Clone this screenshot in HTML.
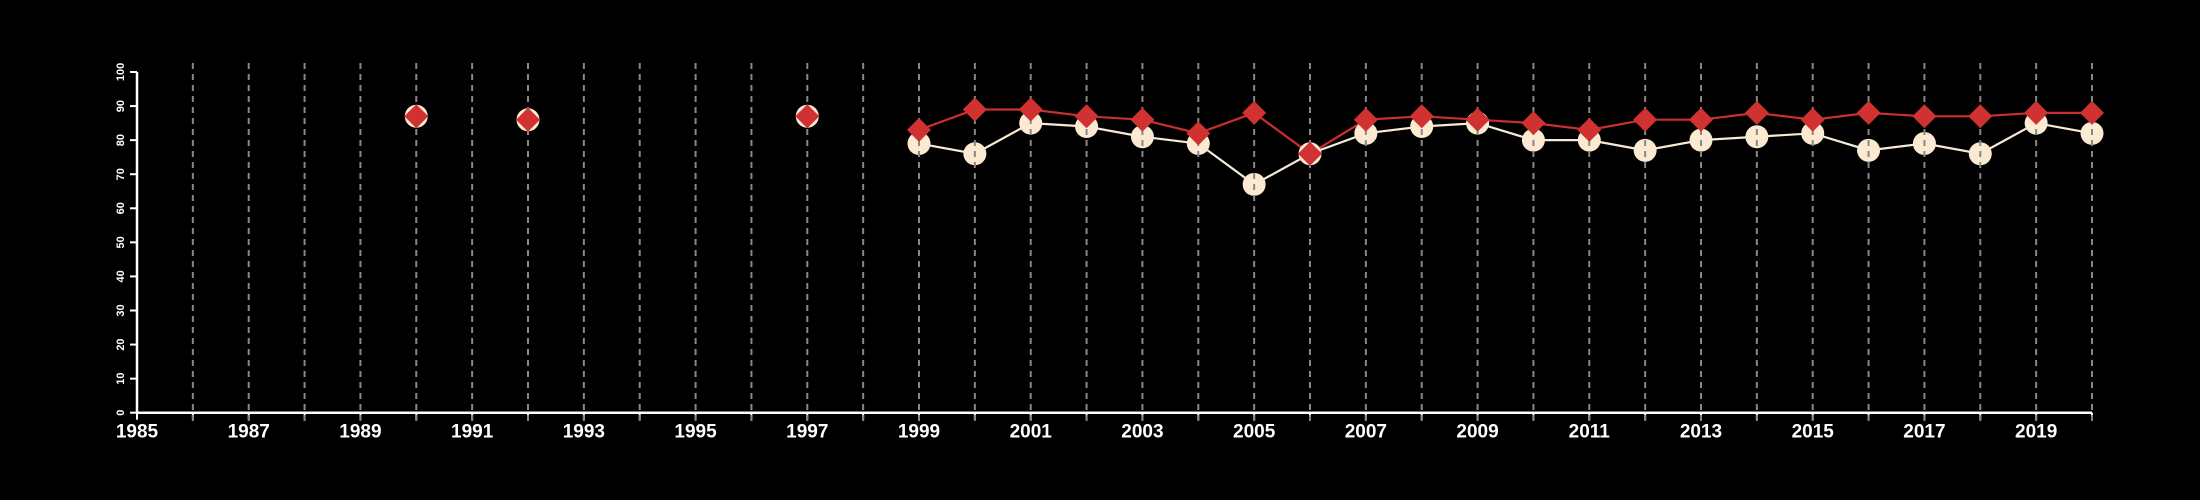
<!DOCTYPE html>
<html><head><meta charset="utf-8"><style>
html,body{margin:0;padding:0;background:#000;}
svg{display:block;}
text{font-family:"Liberation Sans",sans-serif;fill:#fff;font-weight:bold;}
</style></head><body>
<svg id="chart" width="2200" height="500" viewBox="0 0 2200 500" xmlns="http://www.w3.org/2000/svg">
<rect width="2200" height="500" fill="#000"/>
<g id="grid"></g>
<g id="axes"></g>
<g id="marks"></g>
</svg>
<script>
const years = [1990,1992,1997,1999,2000,2001,2002,2003,2004,2005,2006,2007,2008,2009,2010,2011,2012,2013,2014,2015,2016,2017,2018,2019,2020];
const seriesCream = [87,86,87,79,76,85,84,81,79,67,76,82,84,85,80,80,77,80,81,82,77,79,76,85,82];
const seriesRed = [87,86,87,83,89,89,87,86,82,88,76,86,87,86,85,83,86,86,88,86,88,87,87,88,88];
const yTicks = [0,10,20,30,40,50,60,70,80,90,100];
const xTickYears = [1985,1986,1987,1988,1989,1990,1991,1992,1993,1994,1995,1996,1997,1998,1999,2000,2001,2002,2003,2004,2005,2006,2007,2008,2009,2010,2011,2012,2013,2014,2015,2016,2017,2018,2019,2020];
const xLabels = ["1985","1987","1989","1991","1993","1995","1997","1999","2001","2003","2005","2007","2009","2011","2013","2015","2017","2019"];

const NS="http://www.w3.org/2000/svg";
const X0=137,X1=2092,Y0=412.7,Y1=72;
const x=v=>X0+(v-1985)*(X1-X0)/35;
const y=v=>Y0-(v)*(Y0-Y1)/100;
function mk(tag,attrs,parent){const e=document.createElementNS(NS,tag);for(const k in attrs)e.setAttribute(k,attrs[k]);parent.appendChild(e);return e;}
const grid=document.getElementById('grid'),axes=document.getElementById('axes'),marks=document.getElementById('marks');

// y axis
let e=mk('line',{x1:X0,x2:X0,y1:y(0),y2:y(100),stroke:'#fff','stroke-width':2.5},axes);


yTicks.forEach(t=>{
  let tk=mk('line',{x1:X0-7,x2:X0,y1:y(t),y2:y(t),stroke:'#fff','stroke-width':2},axes);
  
  
  let tx=mk('text',{x:0,y:0,'font-size':11,'text-anchor':'middle',transform:`translate(${X0-16},${y(t)}) rotate(-90)`,'dominant-baseline':'central'},axes);
  tx.textContent=t;
  
  
});
// x axis
e=mk('line',{x1:X0,x2:x(2020),y1:Y0,y2:Y0,stroke:'#fff','stroke-width':2.5},axes);


xTickYears.forEach(t=>{
  let tk=mk('line',{x1:x(t),x2:x(t),y1:Y0,y2:Y0+7,stroke:'#fff','stroke-width':2},axes);
  
  
});
xLabels.forEach(l=>{
  let tx=mk('text',{x:x(+l),y:Y0+25,'font-size':19,'text-anchor':'middle'},axes);
  tx.textContent=l;
  
  
});

// lines (only consecutive years connected)
function path(vals,color,name){
  let d='';
  for(let i=0;i<years.length;i++){
    const cont=i>0&&years[i]-years[i-1]===1;
    d+=(cont?'L':'M')+x(years[i])+','+y(vals[i]);
  }
  let p=mk('path',{d:d,fill:'none',stroke:color,'stroke-width':2.2},marks);
  
  
}
path(seriesCream,'#f7ead6','cream-series-line');
path(seriesRed,'#cc2f2f','red-series-line');
years.forEach((yr,i)=>{
  let c=mk('ellipse',{cx:x(yr),cy:y(seriesCream[i]),rx:11.5,ry:11.5,fill:'#fbe9d2'},marks);
  
  
});
// gridlines drawn over circles
for(let t=1986;t<=2020;t++){
  let g=mk('line',{x1:x(t),x2:x(t),y1:63,y2:426,stroke:'#888','stroke-width':2,'stroke-dasharray':'6,5'},marks);
  
  
}
years.forEach((yr,i)=>{
  const cx=x(yr),cy=y(seriesRed[i]);
  let p=mk('polygon',{points:`${cx},${cy-12} ${cx+12},${cy} ${cx},${cy+12} ${cx-12},${cy}`,fill:'#d03232'},marks);
  
  
});
</script>
</body></html>
